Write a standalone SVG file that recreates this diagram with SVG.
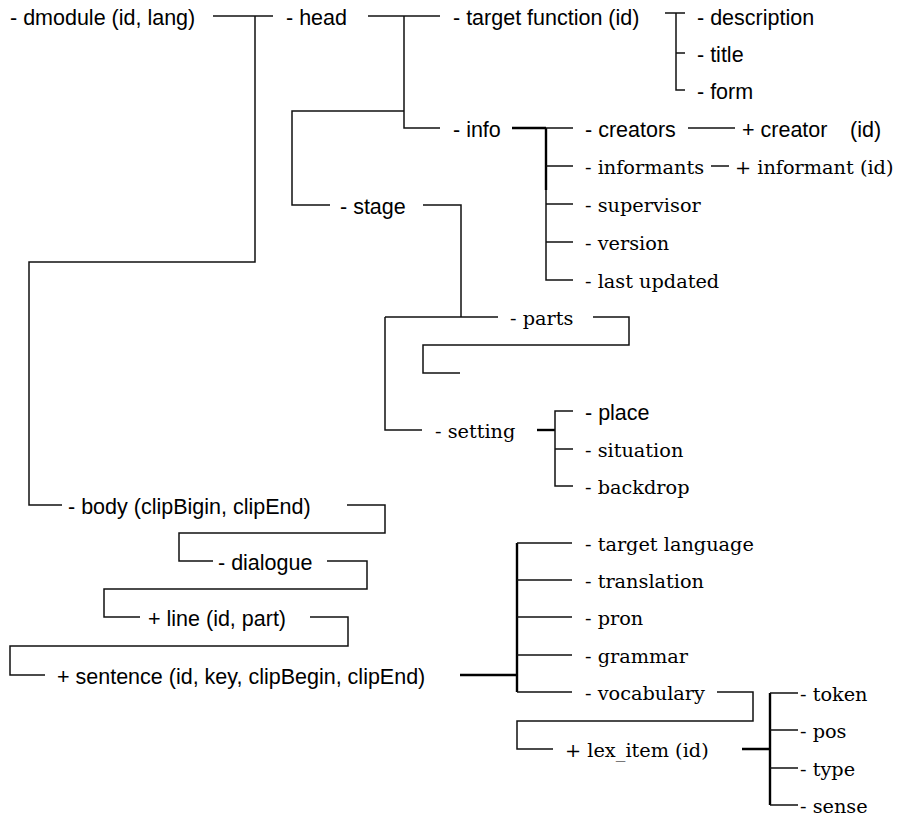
<svg xmlns="http://www.w3.org/2000/svg" width="915" height="817" viewBox="0 0 915 817">
<style>
.s{font-family:"Liberation Sans",Arial,sans-serif;font-size:21.5px;fill:#000}
.r{font-family:"DejaVu Serif","Liberation Serif",serif;font-size:19.3px;fill:#000}
.c{fill:none;stroke:#111;stroke-width:1.5}
.t{fill:none;stroke:#000;stroke-width:2.4}
</style>
<rect width="915" height="817" fill="#fff"/>
<g id="connectors">
<path class="c" d="M213,16H273"/>
<path class="c" d="M255,16V262H29V505H62"/>
<path class="c" d="M368,16H440"/>
<path class="c" d="M404,16V128H440"/>
<path class="c" d="M404,111H292V205H330"/>
<path class="c" d="M665,13H685M676,13V90H685M676,53H685"/>
<path class="t" d="M512,128H546M546,128V190"/>
<path class="c" d="M546,128H573M546,166H573M546,190V280H573M546,204H573M546,242H573"/>
<path class="c" d="M688,128H735"/>
<path class="c" d="M711,166H729"/>
<path class="c" d="M423,205H461V317M385,317H498M385,317V430H422"/>
<path class="c" d="M593,317H629V345H423V373H460"/>
<path class="t" d="M537,430H555"/>
<path class="c" d="M573,411H555V486H573M555,449H573"/>
<path class="c" d="M347,505H385V533H179V561H213"/>
<path class="c" d="M327,561H367V589H104V617H140"/>
<path class="c" d="M310,617H348V646H10V675H45"/>
<path class="t" d="M460,675H517M517,543V692"/>
<path class="c" d="M572,543H517M517,580H572M517,617H572M517,655H572M517,692H572"/>
<path class="c" d="M717,692H753V721H517V749H553"/>
<path class="t" d="M742,749H770M770,693V805"/>
<path class="c" d="M798,693H770M770,730H798M770,768H798M770,805H798"/>
</g>
<g id="n-dmodule"><text class="s" x="10" y="25">- dmodule (id, lang)</text></g>
<g id="n-head"><text class="s" x="286" y="25">- head</text></g>
<g id="n-target-function"><text class="s" x="453" y="25">- target function (id)</text></g>
<g id="n-description"><text class="s" x="697" y="25">- description</text></g>
<g id="n-title"><text class="s" x="697" y="62">- title</text></g>
<g id="n-form"><text class="s" x="697" y="99">- form</text></g>
<g id="n-info"><text class="s" x="453" y="137">- info</text></g>
<g id="n-creators"><text class="s" x="585" y="137">- creators</text></g>
<g id="n-creator"><text class="s" x="742" y="137">+ creator<tspan x="850">(id)</tspan></text></g>
<g id="n-informants"><text class="r" x="585" y="174">- informants</text></g>
<g id="n-informant"><text class="r" x="735" y="174">+ informant (id)</text></g>
<g id="n-supervisor"><text class="r" x="585" y="212">- supervisor</text></g>
<g id="n-version"><text class="r" x="585" y="250">- version</text></g>
<g id="n-last-updated"><text class="r" x="585" y="288">- last updated</text></g>
<g id="n-stage"><text class="s" x="340" y="214">- stage</text></g>
<g id="n-parts"><text class="r" x="510" y="325">- parts</text></g>
<g id="n-setting"><text class="r" x="435" y="438">- setting</text></g>
<g id="n-place"><text class="s" x="585" y="420">- place</text></g>
<g id="n-situation"><text class="r" x="585" y="457">- situation</text></g>
<g id="n-backdrop"><text class="r" x="585" y="494">- backdrop</text></g>
<g id="n-body"><text class="s" x="68" y="514">- body (clipBigin, clipEnd)</text></g>
<g id="n-dialogue"><text class="s" x="218" y="570">- dialogue</text></g>
<g id="n-line"><text class="s" x="148" y="626">+ line (id, part)</text></g>
<g id="n-sentence"><text class="s" x="57" y="684">+ sentence (id, key, clipBegin, clipEnd)</text></g>
<g id="n-target-language"><text class="r" x="585" y="551">- target language</text></g>
<g id="n-translation"><text class="r" x="585" y="588">- translation</text></g>
<g id="n-pron"><text class="r" x="585" y="625">- pron</text></g>
<g id="n-grammar"><text class="r" x="585" y="663">- grammar</text></g>
<g id="n-vocabulary"><text class="r" x="585" y="700">- vocabulary</text></g>
<g id="n-lex-item"><text class="r" x="565" y="757">+ lex_item (id)</text></g>
<g id="n-token"><text class="r" x="800" y="701">- token</text></g>
<g id="n-pos"><text class="r" x="800" y="738">- pos</text></g>
<g id="n-type"><text class="r" x="800" y="776">- type</text></g>
<g id="n-sense"><text class="r" x="800" y="813">- sense</text></g>
</svg>
